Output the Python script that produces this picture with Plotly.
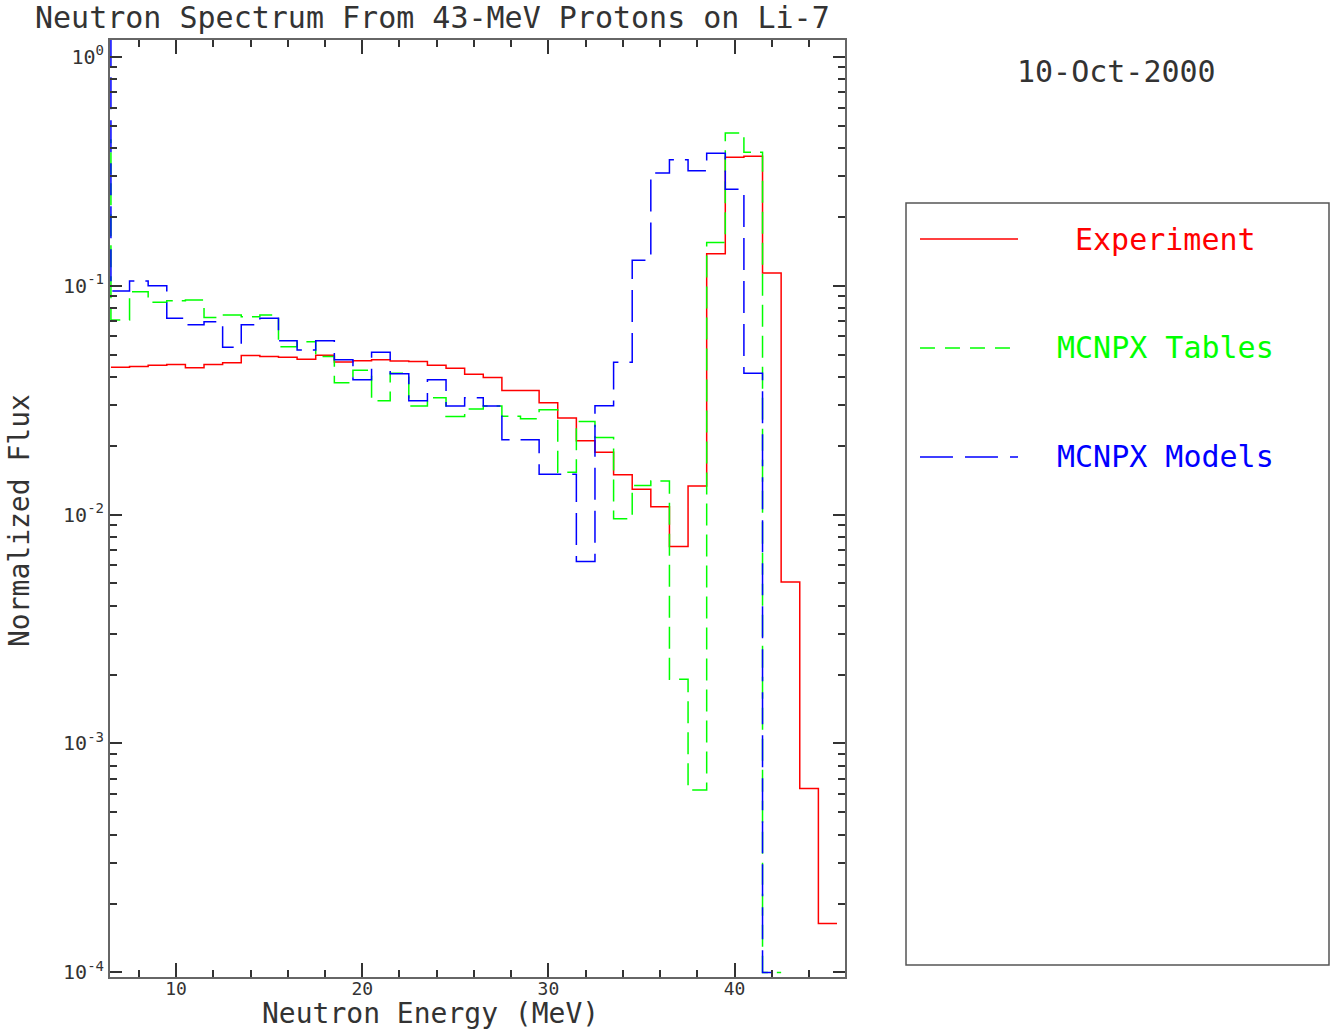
import plotly.graph_objects as go

# ---- data (bin centres in MeV, 1-MeV wide bins) ----
exp_centers = list(range(7, 46))
exp_flux = [0.0440, 0.0443, 0.0449, 0.0452, 0.0438, 0.0452, 0.0461, 0.0495, 0.0490,
            0.0487, 0.0477, 0.0497, 0.0464, 0.0470, 0.0475, 0.0469, 0.0466, 0.0449,
            0.0436, 0.0410, 0.0397, 0.0348, 0.0348, 0.0308, 0.0264, 0.0210, 0.01873,
            0.01491, 0.01291, 0.01083, 0.00725, 0.01334, 0.1379, 0.3636, 0.3673,
            0.1136, 0.00508, 0.000636, 0.0001637]

tab_centers = list(range(6, 43))
tab_flux = [0.433, 0.0708, 0.0941, 0.0846, 0.0860, 0.0866, 0.0725, 0.0745, 0.0732,
            0.0745, 0.0541, 0.0569, 0.0490, 0.0377, 0.0427, 0.0314, 0.0414, 0.0298,
            0.0324, 0.0268, 0.0289, 0.0298, 0.0269, 0.0262, 0.0287, 0.01532, 0.0255,
            0.0217, 0.00958, 0.01338, 0.01403, 0.00191, 0.000626, 0.1544, 0.464,
            0.3825, 0.0001]

mod_centers = list(range(6, 43))
mod_flux = [1.6, 0.0948, 0.1048, 0.100, 0.0721, 0.0674, 0.0696, 0.0538, 0.0674,
            0.0721, 0.0575, 0.0524, 0.0575, 0.0474, 0.0388, 0.0512, 0.0412, 0.0314,
            0.0388, 0.0298, 0.0324, 0.0298, 0.0212, 0.0212, 0.01501, 0.01501, 0.00623,
            0.0299, 0.0463, 0.1291, 0.3105, 0.3549, 0.3178, 0.3786, 0.2636, 0.0414,
            0.0001]

x_tickvals = [10, 20, 30, 40]
x_ticktext = ["10", "20", "30", "40"]
y_tickvals = [1, 0.1, 0.01, 0.001, 0.0001]
y_ticktext = ["10<sup>0</sup>", "10<sup>-1</sup>", "10<sup>-2</sup>",
              "10<sup>-3</sup>", "10<sup>-4</sup>"]

series_names = ["Experiment", "MCNPX Tables", "MCNPX Models"]
series_colors = ["#FF0000", "#00FF00", "#0000FF"]
plot_dash = ["solid", "22px,9px", "32px,11px"]
legend_dash = ["solid", "15px,10px", "33px,12px"]

FONT = "DejaVu Sans Mono"
TXT = "#333333"


def step_xy(centers, vals):
    xs = [c - 0.5 for c in centers] + [centers[-1] + 0.5]
    ys = list(vals) + [vals[-1]]
    return xs, ys


fig = go.Figure()
for centers, vals, name, col, dash in zip(
        [exp_centers, tab_centers, mod_centers],
        [exp_flux, tab_flux, mod_flux],
        series_names, series_colors, plot_dash):
    xs, ys = step_xy(centers, vals)
    fig.add_trace(go.Scatter(x=xs, y=ys, mode="lines", name=name,
                             line=dict(color=col, width=1.5, dash=dash, shape="hv"),
                             showlegend=False))

axis_col = "#666666"
fig.update_xaxes(range=[6.45, 45.93], tickvals=x_tickvals, ticktext=x_ticktext,
                 ticks="inside", ticklen=14, tickwidth=1.5, tickcolor="#333",
                 showline=True, linecolor=axis_col, linewidth=2, mirror="allticks",
                 showgrid=False, zeroline=False, ticklabelstandoff=-6,
                 tickfont=dict(family=FONT, size=18, color=TXT),
                 minor=dict(dtick=2, tick0=0, ticks="inside", ticklen=7,
                            tickwidth=1.5, tickcolor="#333", showgrid=False))
minor_y = [m * 10.0 ** k for k in range(-4, 1) for m in range(2, 10)]
fig.update_yaxes(type="log", range=[-4.02, 0.073], tickvals=y_tickvals,
                 ticktext=y_ticktext, ticks="inside", ticklen=12, tickwidth=1.5,
                 tickcolor="#333", showline=True, linecolor=axis_col, linewidth=2,
                 mirror="allticks", showgrid=False, zeroline=False,
                 tickfont=dict(family=FONT, size=20, color=TXT),
                 minor=dict(tickmode="array", tickvals=minor_y, ticks="inside",
                            ticklen=7, tickwidth=1.5, tickcolor="#333",
                            showgrid=False))

annotations = [
    dict(text="Neutron Spectrum From 43-MeV Protons on Li-7", x=0.4381, y=1.0235,
         font=dict(family=FONT, size=30, color=TXT)),
    dict(text="10-Oct-2000", x=1.370, y=0.9669,
         font=dict(family=FONT, size=30, color=TXT)),
    dict(text="Neutron Energy (MeV)", x=0.4367, y=-0.0587, yanchor="bottom",
         font=dict(family=FONT, size=28, color=TXT)),
    dict(text="Normalized Flux", x=-0.1224, y=0.4867, textangle=-90,
         font=dict(family=FONT, size=28, color=TXT)),
]
legend_y = [0.7876, 0.6713, 0.555]
legend_text_x = [1.4354, 1.4367, 1.4367]
shapes = [dict(type="rect", xref="paper", yref="paper", x0=1.083, x1=1.6585,
               y0=0.0128, y1=0.826, line=dict(color="#555", width=1.5))]
for name, col, dash, ly, tx in zip(series_names, series_colors, legend_dash,
                                   legend_y, legend_text_x):
    shapes.append(dict(type="line", xref="paper", yref="paper", x0=1.102, x1=1.2354,
                       y0=ly, y1=ly, line=dict(color=col, width=1.5, dash=dash)))
    annotations.append(dict(text=name, x=tx, y=ly,
                            font=dict(family=FONT, size=30, color=col)))
for a in annotations:
    a.setdefault("yanchor", "middle")
    a.update(xref="paper", yref="paper", showarrow=False, xanchor="center")

fig.update_layout(width=1330, height=1033, margin=dict(l=110, r=485, t=40, b=56),
                  paper_bgcolor="white", plot_bgcolor="white",
                  annotations=annotations, shapes=shapes)
fig.write_html("out.html")
